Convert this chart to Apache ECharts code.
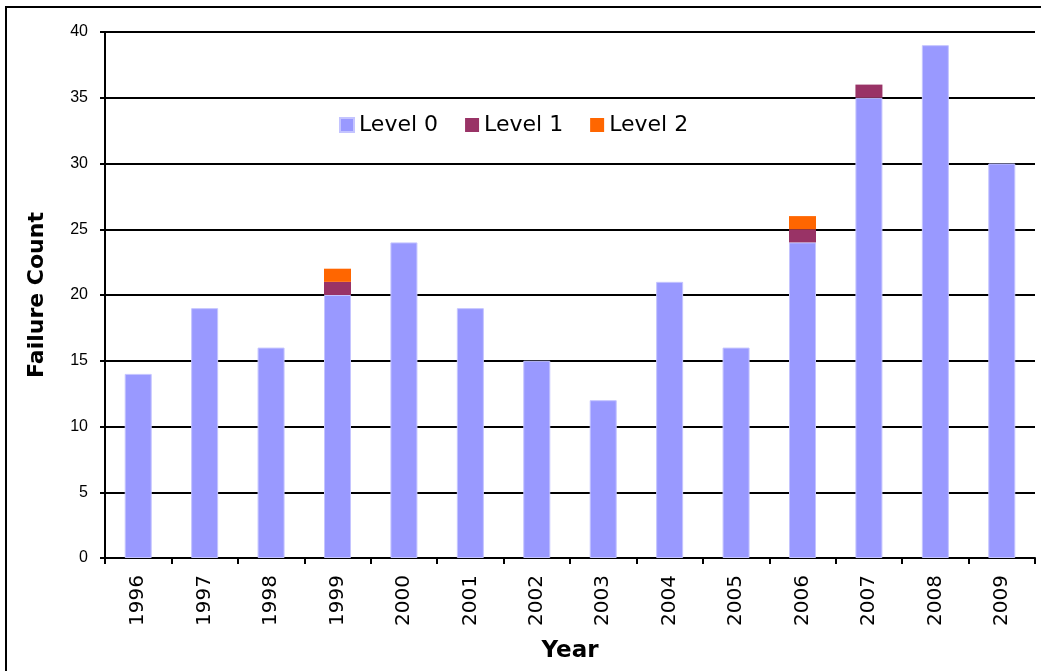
<!DOCTYPE html>
<html>
<head>
<meta charset="utf-8">
<script src="https://cdn.jsdelivr.net/npm/echarts@6/dist/echarts.min.js"></script>
<style>html,body{margin:0;padding:0;background:#fff;}#c{width:1041px;height:671px;}</style>
</head>
<body>
<div id="c"></div>
<script>
var years = ['1996','1997','1998','1999','2000','2001','2002','2003','2004','2005','2006','2007','2008','2009'];
var level0 = [14,19,16,20,24,19,15,12,21,16,24,35,39,30];
var level1 = [0,0,0,1,0,0,0,0,0,0,1,1,0,0];
var level2 = [0,0,0,1,0,0,0,0,0,0,1,0,0,0];
var yTicks = [0,5,10,15,20,25,30,35,40];

var chart = echarts.init(document.getElementById('c'), null, {renderer:'canvas'});
function ser(name, data, color){
  return {name:name, type:'bar', stack:'total', data:data, barWidth:27,
    itemStyle:{color:color, borderColor: name==='Level 0' ? '#c4c4ff' : color, borderWidth: name==='Level 0' ? 1 : 0},
    emphasis:{disabled:true}};
}
chart.setOption({
  animation:false,
  backgroundColor:'#fff',
  graphic:[{type:'rect', shape:{x:6,y:7,width:1040,height:670}, style:{fill:'none', stroke:'#000', lineWidth:2}, z:100}],
  grid:{left:105, top:32, right:6, bottom:113, containLabel:false, outerBoundsMode:'none'},
  legend:{left:334, top:109, itemWidth:14, itemHeight:14, itemGap:27, icon:'rect',
    textStyle:{fontFamily:'DejaVu Sans', fontSize:22, color:'#000'},
    data:['Level 0','Level 1','Level 2']},
  xAxis:{type:'category', data:years, boundaryGap:true,
    axisLine:{lineStyle:{color:'#000', width:2}},
    axisTick:{show:true, length:6, interval:0, lineStyle:{color:'#000', width:2}},
    axisLabel:{rotate:90, interval:0, margin:17, fontFamily:'DejaVu Sans', fontSize:20, color:'#000'},
    name:'Year', nameLocation:'middle', nameGap:82,
    nameTextStyle:{fontFamily:'DejaVu Sans', fontWeight:'bold', fontSize:23, color:'#000'}},
  yAxis:{type:'value', min:0, max:40, interval:5,
    axisLine:{show:true, lineStyle:{color:'#000', width:2}},
    axisTick:{show:true, length:5, lineStyle:{color:'#000', width:2}},
    axisLabel:{margin:17, fontFamily:'Liberation Sans', fontSize:16, color:'#000',
      formatter:function(v){return yTicks.indexOf(v)>=0 ? String(v) : '';}},
    splitLine:{show:true, lineStyle:{color:'#000', width:2}},
    name:'Failure Count', nameLocation:'middle', nameGap:57,
    nameTextStyle:{fontFamily:'DejaVu Sans', fontWeight:'bold', fontSize:22, color:'#000'}},
  series:[ser('Level 0', level0, '#9999ff'), ser('Level 1', level1, '#993366'), ser('Level 2', level2, '#ff6600')]
});
</script>
</body>
</html>
